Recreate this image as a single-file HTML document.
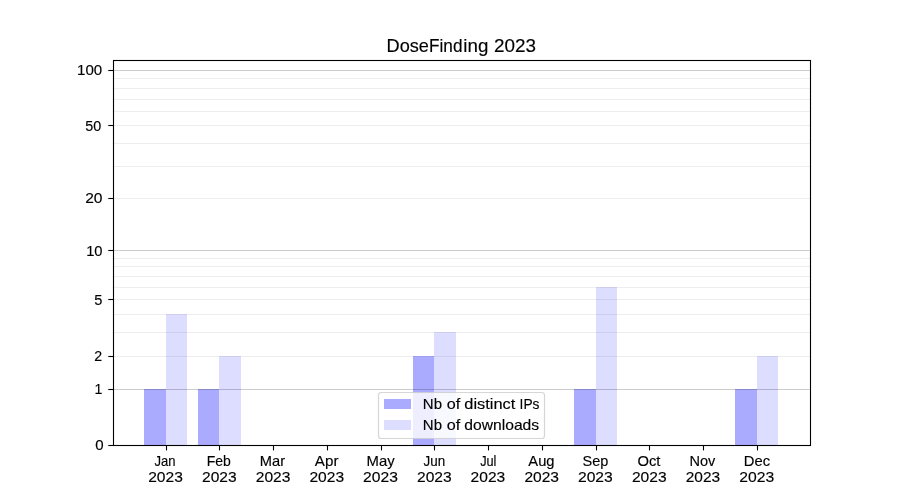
<!DOCTYPE html>
<html><head><meta charset="utf-8"><title>DoseFinding 2023</title>
<style>html,body{margin:0;padding:0;background:#fff;width:900px;height:500px;overflow:hidden}svg{display:block;position:absolute;left:0;top:0;will-change:transform}svg text{font-family:"Liberation Sans",sans-serif;filter:grayscale(1)}</style></head>
<body>
<svg width="900" height="500" viewBox="0 0 900 500" font-family="Liberation Sans, sans-serif" fill="#000">
<rect width="900" height="500" fill="#fff"/>
<g shape-rendering="crispEdges">
<rect x="144" y="389" width="22" height="56" fill="#aaaaff"/>
<rect x="166" y="314" width="21" height="131" fill="#ddddff"/>
<rect x="198" y="389" width="21" height="56" fill="#aaaaff"/>
<rect x="219" y="356" width="22" height="89" fill="#ddddff"/>
<rect x="413" y="356" width="21" height="89" fill="#aaaaff"/>
<rect x="434" y="332" width="22" height="113" fill="#ddddff"/>
<rect x="574" y="389" width="22" height="56" fill="#aaaaff"/>
<rect x="596" y="287" width="21" height="158" fill="#ddddff"/>
<rect x="735" y="389" width="22" height="56" fill="#aaaaff"/>
<rect x="757" y="356" width="21" height="89" fill="#ddddff"/>
</g>
<g stroke-width="1.1" fill="none">
<line x1="112.5" x2="810.0" y1="356.5" y2="356.5" stroke="#000" stroke-opacity="0.07"/>
<line x1="112.5" x2="810.0" y1="332.5" y2="332.5" stroke="#000" stroke-opacity="0.07"/>
<line x1="112.5" x2="810.0" y1="314.5" y2="314.5" stroke="#000" stroke-opacity="0.07"/>
<line x1="112.5" x2="810.0" y1="299.5" y2="299.5" stroke="#000" stroke-opacity="0.07"/>
<line x1="112.5" x2="810.0" y1="287.5" y2="287.5" stroke="#000" stroke-opacity="0.07"/>
<line x1="112.5" x2="810.0" y1="276.5" y2="276.5" stroke="#000" stroke-opacity="0.07"/>
<line x1="112.5" x2="810.0" y1="266.5" y2="266.5" stroke="#000" stroke-opacity="0.07"/>
<line x1="112.5" x2="810.0" y1="258.5" y2="258.5" stroke="#000" stroke-opacity="0.07"/>
<line x1="112.5" x2="810.0" y1="198.5" y2="198.5" stroke="#000" stroke-opacity="0.07"/>
<line x1="112.5" x2="810.0" y1="166.5" y2="166.5" stroke="#000" stroke-opacity="0.07"/>
<line x1="112.5" x2="810.0" y1="143.5" y2="143.5" stroke="#000" stroke-opacity="0.07"/>
<line x1="112.5" x2="810.0" y1="125.5" y2="125.5" stroke="#000" stroke-opacity="0.07"/>
<line x1="112.5" x2="810.0" y1="111.5" y2="111.5" stroke="#000" stroke-opacity="0.07"/>
<line x1="112.5" x2="810.0" y1="99.5" y2="99.5" stroke="#000" stroke-opacity="0.07"/>
<line x1="112.5" x2="810.0" y1="88.5" y2="88.5" stroke="#000" stroke-opacity="0.07"/>
<line x1="112.5" x2="810.0" y1="78.5" y2="78.5" stroke="#000" stroke-opacity="0.07"/>
<line x1="112.5" x2="810.0" y1="389.5" y2="389.5" stroke="#000" stroke-opacity="0.2"/>
<line x1="112.5" x2="810.0" y1="250.5" y2="250.5" stroke="#000" stroke-opacity="0.2"/>
<line x1="112.5" x2="810.0" y1="70.5" y2="70.5" stroke="#000" stroke-opacity="0.2"/>
</g>
<g stroke="#000" stroke-width="1.1" fill="none">
<line x1="108.3" x2="113.5" y1="445.5" y2="445.5"/>
<line x1="108.3" x2="113.5" y1="389.5" y2="389.5"/>
<line x1="108.3" x2="113.5" y1="356.5" y2="356.5"/>
<line x1="108.3" x2="113.5" y1="299.5" y2="299.5"/>
<line x1="108.3" x2="113.5" y1="250.5" y2="250.5"/>
<line x1="108.3" x2="113.5" y1="198.5" y2="198.5"/>
<line x1="108.3" x2="113.5" y1="125.5" y2="125.5"/>
<line x1="108.3" x2="113.5" y1="70.5" y2="70.5"/>
<line x1="166.5" x2="166.5" y1="445.5" y2="450.4"/>
<line x1="219.5" x2="219.5" y1="445.5" y2="450.4"/>
<line x1="273.5" x2="273.5" y1="445.5" y2="450.4"/>
<line x1="327.5" x2="327.5" y1="445.5" y2="450.4"/>
<line x1="381.5" x2="381.5" y1="445.5" y2="450.4"/>
<line x1="434.5" x2="434.5" y1="445.5" y2="450.4"/>
<line x1="488.5" x2="488.5" y1="445.5" y2="450.4"/>
<line x1="542.5" x2="542.5" y1="445.5" y2="450.4"/>
<line x1="596.5" x2="596.5" y1="445.5" y2="450.4"/>
<line x1="649.5" x2="649.5" y1="445.5" y2="450.4"/>
<line x1="703.5" x2="703.5" y1="445.5" y2="450.4"/>
<line x1="757.5" x2="757.5" y1="445.5" y2="450.4"/>
<rect x="113.5" y="60.5" width="697.0" height="385.0"/>
</g>
<rect x="378.5" y="392.5" width="166" height="46" rx="2.8" ry="2.8" fill="#fff" fill-opacity="0.8" stroke="#ccc" stroke-opacity="0.8" stroke-width="1.2"/>
<rect x="384" y="399" width="27" height="10" fill="#aaaaff" shape-rendering="crispEdges"/>
<rect x="384" y="420" width="27" height="10" fill="#ddddff" shape-rendering="crispEdges"/>
<g stroke="#000" stroke-width="0.15" stroke-linejoin="round">
<text x="386.60" y="51.60" font-size="17.8" textLength="42.33" lengthAdjust="spacingAndGlyphs">Dose</text>
<text x="429.03" y="51.60" font-size="17.8" textLength="33.43" lengthAdjust="spacingAndGlyphs">Find</text>
<text x="463.39" y="51.60" font-size="17.8" textLength="25.04" lengthAdjust="spacingAndGlyphs">ing</text>
<text x="493.95" y="51.60" font-size="17.8" textLength="41.95" lengthAdjust="spacingAndGlyphs">2023</text>
<text x="95.31" y="449.90" font-size="14.5" textLength="8.37" lengthAdjust="spacingAndGlyphs">0</text>
<text x="94.44" y="394.00" font-size="14.5" textLength="7.90" lengthAdjust="spacingAndGlyphs">1</text>
<text x="94.16" y="361.00" font-size="14.5" textLength="7.93" lengthAdjust="spacingAndGlyphs">2</text>
<text x="94.23" y="304.90" font-size="14.5" textLength="8.14" lengthAdjust="spacingAndGlyphs">5</text>
<text x="86.17" y="255.90" font-size="14.5" textLength="16.39" lengthAdjust="spacingAndGlyphs">10</text>
<text x="85.20" y="202.90" font-size="14.5" textLength="17.35" lengthAdjust="spacingAndGlyphs">20</text>
<text x="85.27" y="130.90" font-size="14.5" textLength="15.97" lengthAdjust="spacingAndGlyphs">50</text>
<text x="77.06" y="75.00" font-size="14.5" textLength="25.20" lengthAdjust="spacingAndGlyphs">100</text>
<text x="154.44" y="466.00" font-size="14.5" textLength="21.05" lengthAdjust="spacingAndGlyphs">Jan</text>
<text x="148.21" y="482.00" font-size="14.5" textLength="34.65" lengthAdjust="spacingAndGlyphs">2023</text>
<text x="206.74" y="466.00" font-size="14.5" textLength="24.11" lengthAdjust="spacingAndGlyphs">Feb</text>
<text x="202.02" y="482.00" font-size="14.5" textLength="34.63" lengthAdjust="spacingAndGlyphs">2023</text>
<text x="259.89" y="466.00" font-size="14.5" textLength="25.26" lengthAdjust="spacingAndGlyphs">Mar</text>
<text x="255.74" y="482.00" font-size="14.5" textLength="34.65" lengthAdjust="spacingAndGlyphs">2023</text>
<text x="314.89" y="466.00" font-size="14.5" textLength="23.61" lengthAdjust="spacingAndGlyphs">Apr</text>
<text x="309.46" y="482.00" font-size="14.5" textLength="34.64" lengthAdjust="spacingAndGlyphs">2023</text>
<text x="366.58" y="466.00" font-size="14.5" textLength="28.12" lengthAdjust="spacingAndGlyphs">May</text>
<text x="363.07" y="482.00" font-size="14.5" textLength="34.81" lengthAdjust="spacingAndGlyphs">2023</text>
<text x="423.62" y="466.00" font-size="14.5" textLength="21.64" lengthAdjust="spacingAndGlyphs">Jun</text>
<text x="416.97" y="482.00" font-size="14.5" textLength="34.69" lengthAdjust="spacingAndGlyphs">2023</text>
<text x="480.14" y="466.00" font-size="14.5" textLength="16.30" lengthAdjust="spacingAndGlyphs">Jul</text>
<text x="470.61" y="482.00" font-size="14.5" textLength="34.62" lengthAdjust="spacingAndGlyphs">2023</text>
<text x="528.38" y="466.00" font-size="14.5" textLength="26.19" lengthAdjust="spacingAndGlyphs">Aug</text>
<text x="524.43" y="482.00" font-size="14.5" textLength="34.58" lengthAdjust="spacingAndGlyphs">2023</text>
<text x="582.58" y="466.00" font-size="14.5" textLength="25.79" lengthAdjust="spacingAndGlyphs">Sep</text>
<text x="577.95" y="482.00" font-size="14.5" textLength="34.84" lengthAdjust="spacingAndGlyphs">2023</text>
<text x="637.48" y="466.00" font-size="14.5" textLength="22.97" lengthAdjust="spacingAndGlyphs">Oct</text>
<text x="631.91" y="482.00" font-size="14.5" textLength="34.65" lengthAdjust="spacingAndGlyphs">2023</text>
<text x="689.50" y="466.00" font-size="14.5" textLength="25.87" lengthAdjust="spacingAndGlyphs">Nov</text>
<text x="685.72" y="482.00" font-size="14.5" textLength="34.39" lengthAdjust="spacingAndGlyphs">2023</text>
<text x="743.87" y="466.00" font-size="14.5" textLength="26.28" lengthAdjust="spacingAndGlyphs">Dec</text>
<text x="739.20" y="482.00" font-size="14.5" textLength="34.96" lengthAdjust="spacingAndGlyphs">2023</text>
<text x="422.85" y="408.70" font-size="14.5" textLength="19.14" lengthAdjust="spacingAndGlyphs">Nb</text>
<text x="446.74" y="408.70" font-size="14.5" textLength="13.48" lengthAdjust="spacingAndGlyphs">of</text>
<text x="464.37" y="408.70" font-size="14.5" textLength="50.90" lengthAdjust="spacingAndGlyphs">distinct</text>
<text x="519.62" y="408.70" font-size="14.5" textLength="19.85" lengthAdjust="spacingAndGlyphs">IPs</text>
<text x="422.85" y="429.80" font-size="14.5" textLength="19.14" lengthAdjust="spacingAndGlyphs">Nb</text>
<text x="446.74" y="429.80" font-size="14.5" textLength="13.48" lengthAdjust="spacingAndGlyphs">of</text>
<text x="464.35" y="429.80" font-size="14.5" textLength="74.78" lengthAdjust="spacingAndGlyphs">downloads</text>
</g>
</svg>
</body></html>
